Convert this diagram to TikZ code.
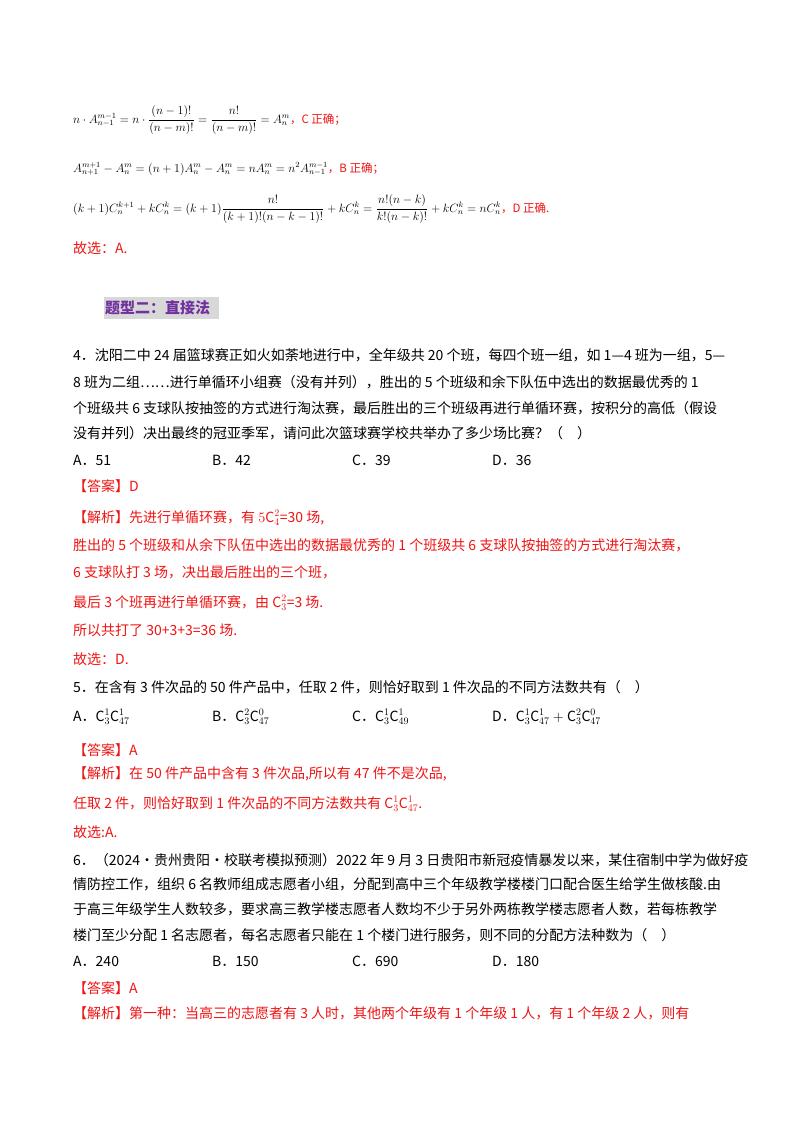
\documentclass[tikz,border=0pt]{standalone}
\usepackage{fontspec}
\setmainfont{Noto Sans CJK SC}
\usepackage{amsmath}
\definecolor{ansred}{RGB}{240,20,20}
\definecolor{headpurple}{RGB}{112,48,160}
\definecolor{headgrey}{RGB}{216,216,216}
\begin{document}
\begin{tikzpicture}[x=1pt,y=-1pt,
  txt/.style={anchor=base west,inner sep=0pt,font=\fontsize{14}{16}\selectfont},
  frm/.style={anchor=base west,inner sep=0pt,font=\fontsize{11.5}{14}\selectfont},
  red/.style={txt,text=ansred}]
\useasboundingbox[fill=white] (0,0) rectangle (800,1132);
\node[frm] (f1) at (73,123) {$n\cdot A_{n-1}^{m-1}=n\cdot\dfrac{(n-1)!}{(n-m)!}=\dfrac{n!}{(n-m)!}=A_n^m$\textcolor{ansred}{，C 正确；}};
\node[frm] (f2) at (73,172) {$A_{n+1}^{m+1}-A_n^m=(n+1)A_n^m-A_n^m=nA_n^m=n^2A_{n-1}^{m-1}$\textcolor{ansred}{，B 正确；}};
\node[frm] (f3) at (73,212) {$(k+1)C_n^{k+1}+kC_n^k=(k+1)\dfrac{n!}{(k+1)!(n-k-1)!}+kC_n^k=\dfrac{n!(n-k)}{k!(n-k)!}+kC_n^k=nC_n^k$\textcolor{ansred}{，D 正确.}};
\node[red] (g1) at (73,253) {故选：A.};
\fill[headgrey] (104,297) rectangle (219,319);
\node[anchor=base west,inner sep=0pt,font=\fontsize{15}{16}\selectfont\bfseries,text=headpurple] (h) at (105,313.5) {题型二：直接法};
\node[txt] (q4a) at (73,360) {4．沈阳二中 24 届篮球赛正如火如荼地进行中，全年级共 20 个班，每四个班一组，如 1—4 班为一组，5—};
\node[txt] (q4b) at (73,387) {8 班为二组……进行单循环小组赛（没有并列），胜出的 5 个班级和余下队伍中选出的数据最优秀的 1};
\node[txt] (q4c) at (73,413) {个班级共 6 支球队按抽签的方式进行淘汰赛，最后胜出的三个班级再进行单循环赛，按积分的高低（假设};
\node[txt] (q4d) at (73,438) {没有并列）决出最终的冠亚季军，请问此次篮球赛学校共举办了多少场比赛？（\quad）};
\node[txt] (o4a) at (73,465) {A．51};
\node[txt] (o4b) at (212,465) {B．42};
\node[txt] (o4c) at (352,465) {C．39};
\node[txt] (o4d) at (492,465) {D．36};
\node[red] (a4) at (73,491) {【答案】D};
\node[red] (j4a) at (73,522) {【解析】先进行单循环赛，有 $5\mathrm{C}_4^2$=30 场,};
\node[red] (j4b) at (73,550) {胜出的 5 个班级和从余下队伍中选出的数据最优秀的 1 个班级共 6 支球队按抽签的方式进行淘汰赛，};
\node[red] (j4c) at (73,577) {6 支球队打 3 场，决出最后胜出的三个班，};
\node[red] (j4d) at (73,607) {最后 3 个班再进行单循环赛，由 $\mathrm{C}_3^2$=3 场.};
\node[red] (j4e) at (73,635) {所以共打了 30+3+3=36 场.};
\node[red] (g4) at (73,664) {故选：D.};
\node[txt] (q5) at (73,692) {5．在含有 3 件次品的 50 件产品中，任取 2 件，则恰好取到 1 件次品的不同方法数共有（\quad）};
\node[txt] (o5a) at (73,721) {A．$\mathrm{C}_3^1\mathrm{C}_{47}^1$};
\node[txt] (o5b) at (212,721) {B．$\mathrm{C}_3^2\mathrm{C}_{47}^0$};
\node[txt] (o5c) at (352,721) {C．$\mathrm{C}_3^1\mathrm{C}_{49}^1$};
\node[txt] (o5d) at (492,721) {D．$\mathrm{C}_3^1\mathrm{C}_{47}^1+\mathrm{C}_3^2\mathrm{C}_{47}^0$};
\node[red] (a5) at (73,755) {【答案】A};
\node[red] (j5a) at (73,778) {【解析】在 50 件产品中含有 3 件次品,所以有 47 件不是次品,};
\node[red] (j5b) at (73,808) {任取 2 件，则恰好取到 1 件次品的不同方法数共有 $\mathrm{C}_3^1\mathrm{C}_{47}^1$.};
\node[red] (g5) at (73,837) {故选:A.};
\node[txt] (q6a) at (73,865) {6．（2024·贵州贵阳·校联考模拟预测）2022 年 9 月 3 日贵阳市新冠疫情暴发以来，某住宿制中学为做好疫};
\node[txt] (q6b) at (73,889) {情防控工作，组织 6 名教师组成志愿者小组，分配到高中三个年级教学楼楼门口配合医生给学生做核酸.由};
\node[txt] (q6c) at (73,914) {于高三年级学生人数较多，要求高三教学楼志愿者人数均不少于另外两栋教学楼志愿者人数，若每栋教学};
\node[txt] (q6d) at (73,940) {楼门至少分配 1 名志愿者，每名志愿者只能在 1 个楼门进行服务，则不同的分配方法种数为（\quad）};
\node[txt] (o6a) at (73,966) {A．240};
\node[txt] (o6b) at (212,966) {B．150};
\node[txt] (o6c) at (352,966) {C．690};
\node[txt] (o6d) at (492,966) {D．180};
\node[red] (a6) at (73,993) {【答案】A};
\node[red] (j6) at (73,1018) {【解析】第一种：当高三的志愿者有 3 人时，其他两个年级有 1 个年级 1 人，有 1 个年级 2 人，则有};
\end{tikzpicture}
\end{document}
